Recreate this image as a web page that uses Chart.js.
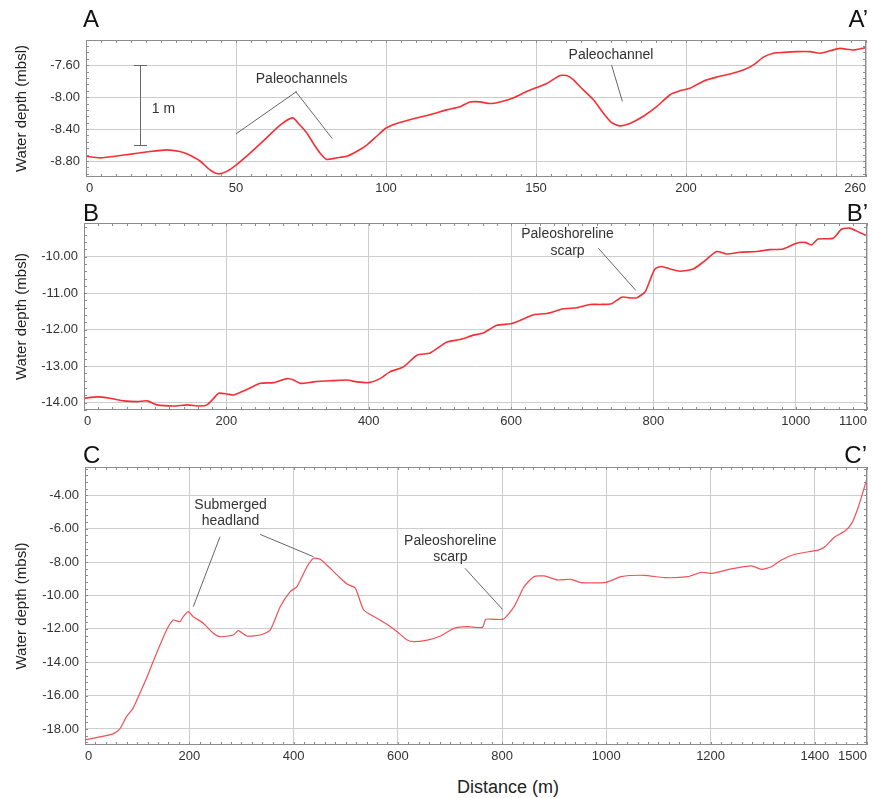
<!DOCTYPE html>
<html>
<head>
<meta charset="utf-8">
<title>Bathymetric profiles</title>
<script src="https://cdn.jsdelivr.net/npm/chart.js@4/dist/chart.umd.min.js"></script>
<style>
  html, body { margin: 0; padding: 0; background: #fff; }
  body { position: relative; width: 872px; height: 798px; overflow: hidden;
         font-family: "Liberation Sans", Arial, sans-serif; color: #111; }
  canvas { position: absolute; left: 0; }
  .tag { position: absolute; font-size: 24px; line-height: 1; color: #111; white-space: nowrap; }
  .axis-name { position: absolute; font-size: 18px; line-height: 1; color: #222; white-space: nowrap; }
</style>
</head>
<body>
<canvas id="profileA" width="872" height="200" style="top:0px"></canvas>
<canvas id="profileB" width="872" height="230" style="top:200px"></canvas>
<canvas id="profileC" width="872" height="340" style="top:430px"></canvas>

<div class="tag" style="left:83px; top:7px">A</div>
<div class="tag" style="right:4px; top:7px">A’</div>
<div class="tag" style="left:83px; top:201px">B</div>
<div class="tag" style="right:4px; top:201px">B’</div>
<div class="tag" style="left:83px; top:443px">C</div>
<div class="tag" style="right:5px; top:443px">C’</div>
<div class="axis-name" style="left:457px; top:778px">Distance (m)</div>

<script>
// ---- Profile A–A' (distance in m, depth in m below sea level) ----
const distA = [0, 4.7, 9.7, 15.7, 21.3, 26.9, 31.3, 33.6, 38, 41.3,
  44.1, 46.9, 50, 54.7, 60.2, 64.7, 68.9, 71.3, 73.6, 75.8,
  78, 80.2, 83.6, 86.9, 90.2, 93.6, 96.9, 99.9, 103.6, 109.1,
  114.7, 120.2, 124.7, 128, 131.3, 134.7, 138, 142.4, 146.9, 150.2,
  153.6, 158, 160.2, 162.4, 164.7, 169.1, 172.4, 175.2, 178, 181.3,
  185.8, 190.2, 194.7, 198, 201.3, 205.8, 210.2, 214.7, 219.1, 222.4,
  225.8, 229.1, 232.4, 236.9, 241.3, 244.7, 248, 251.3, 255.8, 260];
const depthA = [-8.74, -8.76, -8.74, -8.71, -8.68, -8.66, -8.68, -8.71, -8.80, -8.91,
  -8.96, -8.93, -8.85, -8.70, -8.51, -8.35, -8.26, -8.35, -8.45, -8.58,
  -8.70, -8.78, -8.76, -8.74, -8.68, -8.60, -8.49, -8.39, -8.33, -8.27,
  -8.22, -8.16, -8.12, -8.06, -8.06, -8.08, -8.06, -8.01, -7.93, -7.88,
  -7.83, -7.73, -7.73, -7.78, -7.87, -8.03, -8.20, -8.32, -8.36, -8.33,
  -8.24, -8.12, -7.97, -7.92, -7.89, -7.80, -7.75, -7.71, -7.66, -7.60,
  -7.50, -7.45, -7.44, -7.43, -7.43, -7.45, -7.42, -7.39, -7.41, -7.38];
const xTicksA = [0, 50, 100, 150, 200, 250, 260];
const xLabelsA = ['0', '50', '100', '150', '200', '', '260'];
const yTicksA = [-8.8, -8.4, -8.0, -7.6];

// ---- Profile B–B' ----
const distB = [0, 18.5, 37, 55.9, 74.7, 88.7, 102.7, 126, 144.8, 163.5,
  172.9, 182.2, 189.2, 201, 210.2, 229, 247.7, 266.4, 285.2, 294.5,
  303.9, 322.5, 346, 369.4, 383.4, 399.7, 416.1, 430.2, 448.8, 467.6,
  486.3, 509.8, 528.4, 547.1, 561.1, 579.9, 599.6, 612.6, 631.3, 650.1,
  673.4, 692.2, 710.9, 724.9, 741.3, 755.4, 767, 776.4, 788.1, 795.1,
  802.1, 811.5, 823.2, 837.2, 855.9, 869.9, 888.7, 902.7, 921.4, 944.8,
  963.5, 982.2, 1000, 1012.6, 1022, 1031.3, 1052.4, 1064.1, 1075.8, 1089.8,
  1100];
const depthB = [-13.88, -13.84, -13.88, -13.95, -13.97, -13.95, -14.06, -14.09, -14.06, -14.09,
  -14.06, -13.88, -13.74, -13.76, -13.79, -13.64, -13.47, -13.45, -13.34, -13.38,
  -13.47, -13.43, -13.40, -13.38, -13.43, -13.45, -13.34, -13.15, -13.02, -12.70,
  -12.64, -12.34, -12.27, -12.15, -12.09, -11.88, -11.84, -11.75, -11.59, -11.56,
  -11.43, -11.40, -11.31, -11.31, -11.29, -11.11, -11.13, -11.13, -10.97, -10.65,
  -10.34, -10.27, -10.34, -10.40, -10.34, -10.15, -9.86, -9.93, -9.88, -9.86,
  -9.81, -9.79, -9.64, -9.61, -9.68, -9.52, -9.50, -9.25, -9.22, -9.34,
  -9.43];
const xTicksB = [0, 200, 400, 600, 800, 1000, 1100];
const xLabelsB = ['0', '200', '400', '600', '800', '1000', '1100'];
const yTicksB = [-14, -13, -12, -11, -10];

// ---- Profile C–C' ----
const distC = [0, 28.3, 53.8, 66.7, 79.6, 92.3, 105.2, 118, 130.8, 137.3,
  156.5, 169.2, 182.1, 188.5, 198, 207.7, 226.9, 246.2, 259, 284.6,
  294.2, 310.4, 335.9, 355.2, 374.4, 393.7, 406.5, 425.8, 438.5, 451.3,
  467.3, 490, 502.7, 518.7, 534.6, 560.4, 586, 598.8, 618.1, 630.8,
  656.5, 682.1, 707.7, 733.5, 762.3, 768.7, 784.6, 802.7, 823.1, 842.3,
  861.5, 880.8, 906.5, 932.1, 951.3, 999.4, 1028.3, 1073, 1111.5, 1156.5,
  1182, 1204.6, 1239.8, 1278.3, 1297.5, 1316.7, 1335.9, 1361.5, 1387.3, 1406.5,
  1419.2, 1438.5, 1457.7, 1470.6, 1483.5, 1500];
const depthC = [-18.65, -18.47, -18.29, -18.0, -17.26, -16.75, -15.86, -14.96, -13.96, -13.46,
  -12.07, -11.47, -11.57, -11.27, -10.97, -11.27, -11.66, -12.26, -12.47, -12.37,
  -12.11, -12.43, -12.37, -12.07, -10.67, -9.77, -9.47, -8.28, -7.77, -7.83,
  -8.28, -8.97, -9.31, -9.57, -10.87, -11.37, -11.87, -12.17, -12.67, -12.77,
  -12.67, -12.43, -11.97, -11.87, -11.91, -11.43, -11.43, -11.41, -10.67, -9.47,
  -8.87, -8.83, -9.07, -9.03, -9.23, -9.21, -8.87, -8.79, -8.93, -8.87,
  -8.61, -8.67, -8.41, -8.23, -8.43, -8.28, -7.87, -7.53, -7.38, -7.28,
  -7.08, -6.48, -6.14, -5.68, -4.68, -2.98];
const xTicksC = [0, 200, 400, 600, 800, 1000, 1200, 1400, 1500];
const xLabelsC = ['0', '200', '400', '600', '800', '1000', '1200', '1400', '1500'];
const yTicksC = [-18, -16, -14, -12, -10, -8, -6, -4];

Chart.defaults.font.family = '"Liberation Sans", Arial, sans-serif';

// Frame, inward minor ticks, scale bar and callouts, all placed in data units
const profileDecor = {
  id: 'profileDecor',
  afterDraw(chart, args, opts) {
    const { ctx, chartArea: a, scales: { x, y } } = chart;
    const px = v => x.getPixelForValue(v);
    const py = v => y.getPixelForValue(v);
    ctx.save();

    // minor ticks on all four sides
    ctx.strokeStyle = '#8c8c8c';
    ctx.lineWidth = 1;
    ctx.beginPath();
    const len = 3;
    for (let k = Math.ceil(x.min / opts.minorX); k * opts.minorX <= x.max + 1e-9; k++) {
      const p = Math.round(px(k * opts.minorX)) + 0.5;
      ctx.moveTo(p, a.top); ctx.lineTo(p, a.top + len);
      ctx.moveTo(p, a.bottom); ctx.lineTo(p, a.bottom - len);
    }
    for (let k = Math.ceil(y.min / opts.minorY - 1e-9); k * opts.minorY <= y.max + 1e-9; k++) {
      const p = Math.round(py(k * opts.minorY)) + 0.5;
      ctx.moveTo(a.left, p); ctx.lineTo(a.left + len, p);
      ctx.moveTo(a.right, p); ctx.lineTo(a.right - len, p);
    }
    ctx.stroke();

    // plot frame
    ctx.strokeStyle = '#8c8c8c';
    ctx.strokeRect(Math.round(a.left) + 0.5, Math.round(a.top) + 0.5,
                   Math.round(a.right - a.left) - 1, Math.round(a.bottom - a.top) - 1);

    // vertical scale bar
    if (opts.scaleBar) {
      const s = opts.scaleBar;
      const bx = Math.round(px(s.x)) + 0.5;
      const t = py(s.top), b = py(s.top - s.length);
      ctx.strokeStyle = '#666';
      ctx.beginPath();
      ctx.moveTo(bx, t); ctx.lineTo(bx, b);
      ctx.moveTo(bx - 6.5, Math.round(t) + 0.5); ctx.lineTo(bx + 6.5, Math.round(t) + 0.5);
      ctx.moveTo(bx - 6.5, Math.round(b) + 0.5); ctx.lineTo(bx + 6.5, Math.round(b) + 0.5);
      ctx.stroke();
      ctx.fillStyle = '#333';
      ctx.font = '14px "Liberation Sans", Arial, sans-serif';
      ctx.textAlign = 'left';
      ctx.textBaseline = 'middle';
      ctx.fillText(s.text, px(s.textX), py(s.textY));
    }

    // callout leaders
    ctx.strokeStyle = '#666';
    ctx.lineWidth = 1;
    (opts.leaders || []).forEach(l => {
      ctx.beginPath();
      ctx.moveTo(px(l[0]), py(l[1]));
      ctx.lineTo(px(l[2]), py(l[3]));
      ctx.stroke();
    });

    // callout text
    ctx.fillStyle = '#333';
    ctx.font = '14px "Liberation Sans", Arial, sans-serif';
    ctx.textAlign = 'center';
    ctx.textBaseline = 'middle';
    (opts.notes || []).forEach(n => ctx.fillText(n.text, px(n.x), py(n.y)));

    ctx.restore();
  }
};

function profileChart(id, p) {
  const points = p.dist.map((d, i) => ({ x: d, y: p.depth[i] }));
  return new Chart(document.getElementById(id), {
    type: 'line',
    data: {
      datasets: [{
        data: points,
        borderColor: p.color,
        borderWidth: p.lineWidth,
        pointRadius: 0,
        tension: 0.2,
        fill: false
      }]
    },
    options: {
      responsive: false,
      animation: false,
      events: [],
      layout: { padding: { top: p.padTop, right: p.padRight, left: 0, bottom: 0 } },
      plugins: {
        legend: { display: false },
        tooltip: { enabled: false },
        profileDecor: p.decor
      },
      scales: {
        x: {
          type: 'linear',
          min: p.xMin,
          max: p.xMax,
          afterBuildTicks: s => { s.ticks = p.xTicks.map(v => ({ value: v })); },
          afterFit: s => { s.height = p.xAxisHeight; },
          grid: { color: '#cdcdcd', drawTicks: false },
          border: { display: false },
          ticks: {
            align: 'inner',
            autoSkip: false,
            maxRotation: 0,
            padding: 4,
            color: '#333',
            font: { size: 13 },
            callback: (v, i) => p.xLabels[i]
          }
        },
        y: {
          type: 'linear',
          min: p.yMin,
          max: p.yMax,
          afterBuildTicks: s => { s.ticks = p.yTicks.map(v => ({ value: v })); },
          afterFit: s => { s.width = p.left; },
          grid: { color: '#cdcdcd', drawTicks: false },
          border: { display: false },
          ticks: {
            padding: 6,
            color: '#333',
            font: { size: 13 },
            callback: v => v.toFixed(2)
          },
          title: {
            display: true,
            text: 'Water depth (mbsl)',
            color: '#222',
            font: { size: 15 },
            padding: { top: 13, bottom: 0 }
          }
        }
      }
    },
    plugins: [profileDecor]
  });
}

profileChart('profileA', {
  dist: distA, depth: depthA, color: 'rgba(243, 36, 42, 0.95)', lineWidth: 1.6,
  xMin: 0, xMax: 260, yMin: -9.0, yMax: -7.285,
  xTicks: xTicksA, xLabels: xLabelsA, yTicks: yTicksA,
  left: 86, padTop: 40, padRight: 6, xAxisHeight: 23,
  decor: {
    minorX: 5, minorY: 0.08,
    scaleBar: { x: 18, top: -7.6, length: 1, text: '1 m', textX: 21.9, textY: -8.15 },
    leaders: [[50, -8.46, 70.2, -7.93], [69.9, -7.93, 82.1, -8.52], [175.2, -7.60, 178.8, -8.055]],
    notes: [{ text: 'Paleochannels', x: 71.9, y: -7.78 }, { text: 'Paleochannel', x: 175, y: -7.48 }]
  }
});

profileChart('profileB', {
  dist: distB, depth: depthB, color: 'rgba(243, 36, 42, 0.95)', lineWidth: 1.6,
  xMin: 0, xMax: 1100, yMin: -14.2, yMax: -9.08,
  xTicks: xTicksB, xLabels: xLabelsB, yTicks: yTicksB,
  left: 84, padTop: 23, padRight: 5, xAxisHeight: 20,
  decor: {
    minorX: 20, minorY: 0.2,
    leaders: [[722.5, -9.77, 775.4, -10.93]],
    notes: [{ text: 'Paleoshoreline', x: 679.3, y: -9.38 }, { text: 'scarp', x: 679.3, y: -9.86 }]
  }
});

profileChart('profileC', {
  dist: distC, depth: depthC, color: 'rgba(242, 80, 86, 1)', lineWidth: 1.2,
  xMin: 0, xMax: 1500, yMin: -18.96, yMax: -2.3,
  xTicks: xTicksC, xLabels: xLabelsC, yTicks: yTicksC,
  left: 85, padTop: 37, padRight: 5, xAxisHeight: 25,
  decor: {
    minorX: 20, minorY: 0.4,
    leaders: [[259, -6.48, 207.7, -10.67], [336, -6.34, 438.5, -7.68], [728.8, -8.37, 800.8, -10.83]],
    notes: [
      { text: 'Submerged', x: 279.2, y: -4.58 }, { text: 'headland', x: 279.2, y: -5.52 },
      { text: 'Paleoshoreline', x: 700.8, y: -6.72 }, { text: 'scarp', x: 700.8, y: -7.71 }
    ]
  }
});
</script>
</body>
</html>
